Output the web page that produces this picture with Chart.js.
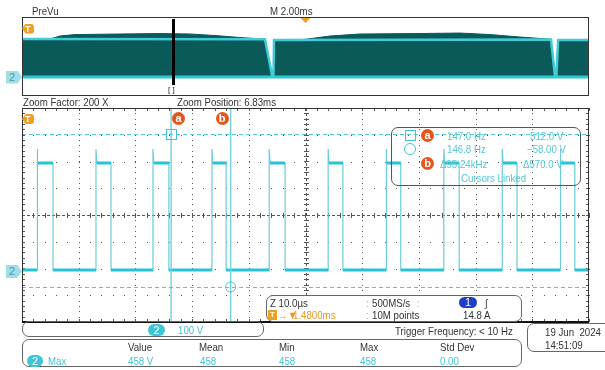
<!DOCTYPE html>
<html>
<head>
<meta charset="utf-8">
<script src="https://cdn.jsdelivr.net/npm/chart.js@4.4.1/dist/chart.umd.min.js"></script>
<style>
  html, body { margin: 0; padding: 0; background: #fff; }
  #wrap { position: relative; width: 605px; height: 370px; overflow: hidden;
          font-family: "Liberation Sans", Arial, sans-serif; }
  canvas { position: absolute; left: 0; top: 0; }
  .t { position: absolute; white-space: pre; font-size: 11px; line-height: 12px; color: #333;
       transform: scaleX(0.88); transform-origin: 0 50%; }
  .cy { color: #45c3d3; }
  .cl { color: #55c6d3; }
  .or { color: #e8961e; }
  .sep { color: #aaa; }
  .box { position: absolute; border: 1px solid #666; border-radius: 7px; box-sizing: border-box; }
  .pill { position: absolute; height: 12px; border-radius: 6px; background: #3ec6d6; color: #fff;
          font-size: 11px; line-height: 12px; text-align: center; }
  .badge { position: absolute; width: 13px; height: 13px; border-radius: 50%; background: #e2571f;
           color: #fff; font-size: 11px; font-weight: bold; line-height: 12px; text-align: center; }
  .tag2 { position: absolute; width: 16px; height: 13px; background: #9fe0e8; color: #5f939c;
          font-size: 11px; line-height: 13px; text-indent: 3px;
          clip-path: polygon(0 0, 72% 0, 100% 50%, 72% 100%, 0 100%); }
  .tagT { position: absolute; width: 12px; height: 10px; background: #f0a020; color: #fff;
          font-size: 9px; font-weight: bold; line-height: 10px; text-indent: 3px;
          border-radius: 0 3px 3px 0;
          clip-path: polygon(0 50%, 30% 0, 100% 0, 100% 100%, 30% 100%); }
  .mark { position: absolute; font-size: 8px; line-height: 8px; color: #222; }
</style>
</head>
<body>
<div id="wrap">
  <canvas id="prev" width="605" height="370"></canvas>
  <canvas id="main" width="605" height="370"></canvas>

  <div class="t" style="left:32px;top:5px">PreVu</div>
  <div class="t" style="left:270px;top:5px">M 2.00ms</div>
  <div class="t" style="left:23px;top:96px">Zoom Factor: 200 X</div>
  <div class="t" style="left:177px;top:96px">Zoom Position: 6.83ms</div>

  <div id="tagPrev2" class="tag2">2</div>
  <div id="tagPrevT" class="tagT">T</div>
  <div id="zoomMark" class="mark">[ ]</div>
  <div id="tagMain2" class="tag2">2</div>
  <div id="tagMainT" class="tagT">T</div>
  <div id="badgeA" class="badge">a</div>
  <div id="badgeB" class="badge">b</div>

  <!-- cursor readout -->
  <div class="box" style="left:391px;top:127px;width:190px;height:59px;border-color:#555"></div>
  <div style="position:absolute;left:405px;top:130px;width:9px;height:9px;border:1px solid #45c3d3"></div>
  <div style="position:absolute;left:404px;top:143px;width:10px;height:10px;border:1px solid #45c3d3;border-radius:50%"></div>
  <div class="badge" style="left:421px;top:129px">a</div>
  <div class="badge" style="left:421px;top:157px">b</div>
  <div class="t cl" style="left:447px;top:130px">147.0 Hz</div>
  <div class="t cl" style="left:530px;top:130px">512.0 V</div>
  <div class="t cl" style="left:447px;top:143px">146.8 Hz</div>
  <div class="t cl" style="left:527px;top:143px">−58.00 V</div>
  <div class="t cl" style="left:440px;top:158px">Δ95.24kHz</div>
  <div class="t cl" style="left:523px;top:158px">Δ570.0 V</div>
  <div class="t cl" style="left:461px;top:172px">Cursors Linked</div>

  <!-- timebase / trigger -->
  <div class="box" style="left:266px;top:295px;width:256px;height:27px;background:#fff"></div>
  <div class="t" style="left:270px;top:297px">Z 10.0µs</div>
  <div class="t sep" style="left:366px;top:297px">:</div>
  <div class="t" style="left:372px;top:297px">500MS/s</div>
  <div class="t sep" style="left:417px;top:297px">:</div>
  <div class="pill" style="left:459px;top:297px;width:18px;height:11px;line-height:11px;background:#1f3fc4">1</div>
  <div class="t" style="left:485px;top:297px">∫</div>
  <div style="position:absolute;left:268px;top:310px;width:9px;height:10px;background:#f0a020;color:#fff;font-size:8px;font-weight:bold;line-height:10px;text-align:center">T</div>
  <div class="t or" style="left:278px;top:309px">→▼</div>
  <div class="t or" style="left:293px;top:309px">1.4800ms</div>
  <div class="t sep" style="left:366px;top:309px">:</div>
  <div class="t" style="left:372px;top:309px">10M points</div>
  <div class="t" style="left:463px;top:309px">14.8 A</div>

  <!-- channel scale -->
  <div class="box" style="left:22px;top:321px;width:242px;height:16px"></div>
  <div class="pill" style="left:148px;top:324px;width:17px">2</div>
  <div class="t cy" style="left:178px;top:324px">100 V</div>

  <div class="t" style="left:395px;top:325px">Trigger Frequency: &lt; 10 Hz</div>

  <div class="box" style="left:527px;top:323px;width:95px;height:29px"></div>
  <div class="t" style="left:545px;top:326px">19 Jun  2024</div>
  <div class="t" style="left:545px;top:339px">14:51:09</div>

  <!-- measurements -->
  <div class="box" style="left:22px;top:339px;width:500px;height:28px"></div>
  <div class="pill" style="left:27px;top:355px;width:16px">2</div>
  <div class="t cy" style="left:48px;top:355px">Max</div>
  <div class="t" style="left:128px;top:341px">Value</div>
  <div class="t" style="left:199px;top:341px">Mean</div>
  <div class="t" style="left:279px;top:341px">Min</div>
  <div class="t" style="left:360px;top:341px">Max</div>
  <div class="t" style="left:440px;top:341px">Std Dev</div>
  <div class="t cy" style="left:128px;top:355px">458 V</div>
  <div class="t cy" style="left:200px;top:355px">458</div>
  <div class="t cy" style="left:279px;top:355px">458</div>
  <div class="t cy" style="left:360px;top:355px">458</div>
  <div class="t cy" style="left:440px;top:355px">0.00</div>
</div>

<script>
// ---- Zoomed channel 2 trace (10 µs/div, 100 V/div) ----
const riseTimesUs = [2.65, 13.05, 23.1, 33.5, 43.6, 54.0, 64.2, 74.4, 84.7, 94.9];
const fallTimesUs = [5.47, 15.7, 25.9, 36.0, 46.4, 56.6, 66.8, 77.1, 87.3, 97.5];
const lowLevelV = 5;
const highLevelV = 405;
const spikeLevelV = 458;
const spikeSettleUs = 0.15;

const zoomSpanUs = [0, 100];
const zoomVoltRange = [-189, 611];
const usPerDiv = 10;
const voltsPerDiv = 100;

// cursors a and b
const cursorTimesUs = [26.3, 36.8];
const cursorLevelsV = [512.0, -58.0];
const zoomTriggerMarkV = 570;

// ---- Full record preview (2 ms/div) ----
const previewSpanMs = [0, 20];
const previewVoltRange = [-189, 632];
const previewEnvelopeMs = [0, 0.99, 1.34, 1.87, 3.46, 4.87, 5.93, 6.81, 7.69, 8.47, 8.57, 8.82, 8.87, 8.89,
                           9.81, 10.86, 11.92, 14.04, 15.45, 16.51, 17.57, 18.55, 18.66, 18.80, 18.85, 18.91, 20];
const previewEnvelopeV  = [400, 400, 432, 447, 453, 458, 453, 437, 416, 400, 398, 16, 16, 390,
                           390, 432, 453, 458, 463, 447, 421, 400, 395, 11, 11, 390, 390];
const previewLevelMs = [0, 8.57, 8.82, 8.87, 8.89, 18.66, 18.80, 18.85, 18.91, 20];
const previewLevelV  = [400, 398, 16, 16, 390, 395, 11, 11, 390, 390];
const previewLowV = 0;
const previewZoomMarkMs = 5.33;
const previewTriggerMs = 10;
const previewTriggerMarkV = 510;

// ---- build trace point lists ----
const edgePts = [{ x: zoomSpanUs[0], y: lowLevelV }];
const levelPts = [{ x: zoomSpanUs[0], y: lowLevelV }];
riseTimesUs.forEach((r, i) => {
  const f = fallTimesUs[i];
  edgePts.push({ x: r, y: lowLevelV }, { x: r, y: spikeLevelV }, { x: r + spikeSettleUs, y: highLevelV },
               { x: f, y: highLevelV }, { x: f, y: lowLevelV });
  levelPts.push({ x: r, y: lowLevelV }, { x: r, y: null }, { x: r + spikeSettleUs, y: highLevelV },
                { x: f, y: highLevelV }, { x: f, y: null }, { x: f, y: lowLevelV });
});
edgePts.push({ x: zoomSpanUs[1], y: lowLevelV });
levelPts.push({ x: zoomSpanUs[1], y: lowLevelV });

const zip = (xs, ys) => xs.map((x, i) => ({ x, y: ys[i] }));

// places HTML markers at scale positions
function placeEl(id, left, top) {
  const el = document.getElementById(id);
  el.style.left = left + 'px';
  el.style.top = top + 'px';
}

// graticule: dotted divisions, dashed centre cross, edge ticks
const graticule = {
  id: 'graticule',
  beforeDatasetsDraw(chart) {
    const { ctx, chartArea: a, scales: { x, y } } = chart;
    const xs = [], ys = [];
    for (let v = x.min; v <= x.max + 1e-6; v += usPerDiv) xs.push(x.getPixelForValue(v));
    for (let v = y.min; v <= y.max + 1e-6; v += voltsPerDiv) ys.push(y.getPixelForValue(v));
    const xm = (xs[1] - xs[0]) / 5, ym = (ys[0] - ys[1]) / 5;
    const xc = x.getPixelForValue((x.min + x.max) / 2);
    const yc = y.getPixelForValue((y.min + y.max) / 2);
    ctx.save();
    ctx.fillStyle = '#555';
    xs.slice(1, -1).forEach(px => {
      if (Math.abs(px - xc) < 1) return;
      for (let py = a.bottom; py >= a.top; py -= ym) ctx.fillRect(Math.round(px), Math.round(py), 1, 1);
    });
    ys.slice(1, -1).forEach(py => {
      if (Math.abs(py - yc) < 1) return;
      for (let px = a.left; px <= a.right; px += xm) ctx.fillRect(Math.round(px), Math.round(py), 1, 1);
    });
    // centre cross
    ctx.strokeStyle = '#555';
    ctx.lineWidth = 1;
    ctx.setLineDash([3, 2]);
    ctx.beginPath();
    ctx.moveTo(a.left, Math.round(yc) + 0.5); ctx.lineTo(a.right, Math.round(yc) + 0.5);
    ctx.moveTo(Math.round(xc) + 0.5, a.top); ctx.lineTo(Math.round(xc) + 0.5, a.bottom);
    ctx.stroke();
    ctx.setLineDash([]);
    ctx.beginPath();
    for (let px = a.left; px <= a.right + 0.5; px += xm) {
      const rx = Math.round(px) + 0.5;
      ctx.moveTo(rx, Math.round(yc) - 2); ctx.lineTo(rx, Math.round(yc) + 3);
      ctx.moveTo(rx, a.top); ctx.lineTo(rx, a.top + 3);
      ctx.moveTo(rx, a.bottom); ctx.lineTo(rx, a.bottom - 3);
    }
    for (let py = a.bottom; py >= a.top - 0.5; py -= ym) {
      const ry = Math.round(py) + 0.5;
      ctx.moveTo(Math.round(xc) - 2, ry); ctx.lineTo(Math.round(xc) + 3, ry);
      ctx.moveTo(a.left, ry); ctx.lineTo(a.left + 3, ry);
      ctx.moveTo(a.right, ry); ctx.lineTo(a.right - 3, ry);
    }
    ctx.stroke();
    ctx.restore();
  },
  afterDatasetsDraw(chart) {
    const { ctx, chartArea: a, scales: { x, y } } = chart;
    ctx.save();
    // cursor time lines
    ctx.strokeStyle = '#79d3dc';
    ctx.lineWidth = 1.5;
    ctx.beginPath();
    cursorTimesUs.forEach(t => {
      const px = x.getPixelForValue(t);
      ctx.moveTo(px, a.top); ctx.lineTo(px, a.bottom);
    });
    ctx.stroke();
    // cursor level lines
    ctx.strokeStyle = '#4fc8d6';
    ctx.lineWidth = 1;
    ctx.setLineDash([4, 3]);
    ctx.beginPath();
    cursorLevelsV.forEach(v => {
      const py = Math.round(y.getPixelForValue(v)) + 0.5;
      ctx.moveTo(a.left, py); ctx.lineTo(a.right, py);
    });
    ctx.stroke();
    ctx.setLineDash([]);
    // cursor intersection markers
    ctx.strokeStyle = '#45c3d3';
    const ax = x.getPixelForValue(cursorTimesUs[0]), ay = y.getPixelForValue(cursorLevelsV[0]);
    ctx.strokeRect(Math.round(ax) - 4.5, Math.round(ay) - 4.5, 10, 10);
    const bx = x.getPixelForValue(cursorTimesUs[1]), by = y.getPixelForValue(cursorLevelsV[1]);
    ctx.beginPath(); ctx.arc(bx, by, 5, 0, Math.PI * 2); ctx.stroke();
    // frame
    ctx.strokeStyle = '#333';
    ctx.lineWidth = 1;
    ctx.strokeRect(a.left + 0.5, a.top + 0.5, a.right - a.left - 1, a.bottom - a.top);
    ctx.fillStyle = '#111';
    ctx.fillRect(a.left, a.bottom - 1, a.right - a.left, 2);
    ctx.restore();
  },
  afterRender(chart) {
    const { chartArea: a, scales: { x, y } } = chart;
    const g = y.getPixelForValue(0);
    placeEl('tagMain2', a.left - 16, g - 6.5);
    placeEl('tagMainT', a.left, y.getPixelForValue(zoomTriggerMarkV) - 5);
    placeEl('badgeA', x.getPixelForValue(cursorTimesUs[0]) + 1, a.top + 4);
    placeEl('badgeB', x.getPixelForValue(cursorTimesUs[1]) - 15, a.top + 4);
  }
};

const previewDecor = {
  id: 'previewDecor',
  afterDatasetsDraw(chart) {
    const { ctx, chartArea: a, scales: { x, y } } = chart;
    ctx.save();
    ctx.strokeStyle = '#333';
    ctx.lineWidth = 1;
    ctx.strokeRect(a.left + 0.5, a.top + 0.5, a.right - a.left - 1, a.bottom - a.top);
    // zoom window marker
    const zx = x.getPixelForValue(previewZoomMarkMs);
    ctx.fillStyle = '#000';
    ctx.fillRect(Math.round(zx) - 1, a.top + 2, 3, y.getPixelForValue(0) + 8 - a.top - 2);
    // trigger position marker
    const tx = x.getPixelForValue(previewTriggerMs);
    ctx.fillStyle = '#f0a020';
    ctx.beginPath();
    ctx.moveTo(tx - 5, a.top + 1); ctx.lineTo(tx + 5, a.top + 1); ctx.lineTo(tx, a.top + 6);
    ctx.closePath(); ctx.fill();
    ctx.restore();
  },
  afterRender(chart) {
    const { chartArea: a, scales: { x, y } } = chart;
    placeEl('tagPrev2', a.left - 16, y.getPixelForValue(0) - 6.5);
    placeEl('tagPrevT', a.left, y.getPixelForValue(previewTriggerMarkV) - 5);
    placeEl('zoomMark', x.getPixelForValue(previewZoomMarkMs) - 5, y.getPixelForValue(0) + 9);
  }
};

const common = {
  responsive: false,
  animation: false,
  devicePixelRatio: 1,
  events: [],
  plugins: { legend: { display: false }, tooltip: { enabled: false } },
  elements: { point: { radius: 0 }, line: { tension: 0 } }
};

new Chart(document.getElementById('prev'), {
  type: 'line',
  data: {
    datasets: [
      { data: zip(previewLevelMs, previewLevelV), borderColor: '#40ccd6', borderWidth: 2.5, fill: false },
      { data: zip(previewSpanMs, [previewLowV, previewLowV]), borderColor: '#2fc6d8', borderWidth: 3, fill: false },
      { data: zip(previewEnvelopeMs, previewEnvelopeV), borderColor: '#0a5a5a', borderWidth: 1,
        backgroundColor: '#0a5a5a', fill: 'origin' }
    ]
  },
  options: {
    ...common,
    layout: { padding: { left: 22, right: 16, top: 17, bottom: 275 } },
    scales: {
      x: { type: 'linear', min: previewSpanMs[0], max: previewSpanMs[1], display: false },
      y: { type: 'linear', min: previewVoltRange[0], max: previewVoltRange[1], display: false }
    }
  },
  plugins: [previewDecor]
});

new Chart(document.getElementById('main'), {
  type: 'line',
  data: {
    datasets: [
      { data: levelPts, borderColor: '#26c4d5', borderWidth: 3, spanGaps: false, fill: false },
      { data: edgePts, borderColor: '#6ccdd8', borderWidth: 1.2, fill: false }
    ]
  },
  options: {
    ...common,
    layout: { padding: { left: 22, right: 16, top: 108, bottom: 48 } },
    scales: {
      x: { type: 'linear', min: zoomSpanUs[0], max: zoomSpanUs[1], display: false },
      y: { type: 'linear', min: zoomVoltRange[0], max: zoomVoltRange[1], display: false }
    }
  },
  plugins: [graticule]
});
</script>
</body>
</html>
